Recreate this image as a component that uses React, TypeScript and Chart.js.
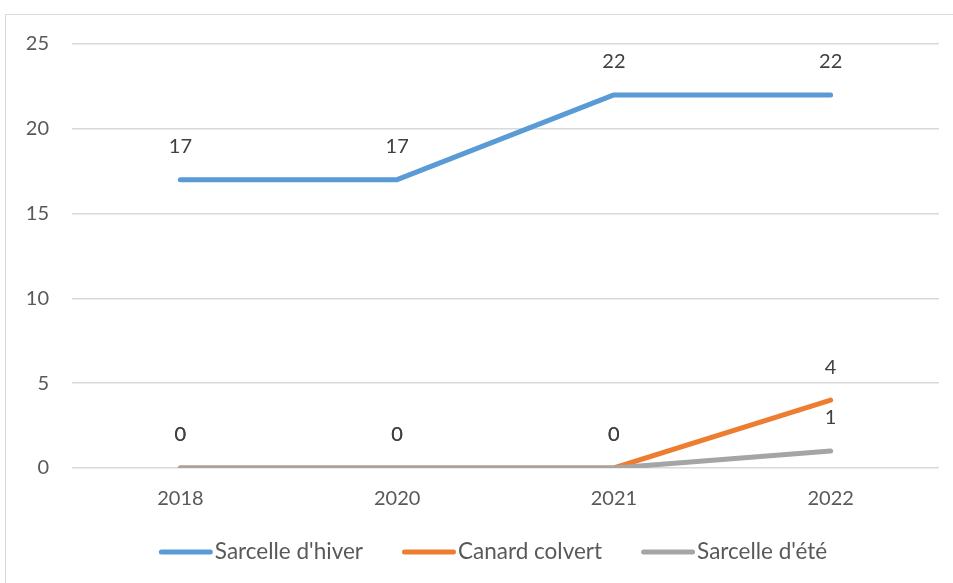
import React, { useEffect, useRef } from "react";
import { Chart, registerables } from "chart.js";

Chart.register(...registerables);

const years = ["2018", "2020", "2021", "2022"];
const sarcelleHiver = [17, 17, 22, 22];
const canardColvert = [0, 0, 0, 4];
const sarcelleEte = [0, 0, 0, 1];
const seriesNames = ["Sarcelle d'hiver", "Canard colvert", "Sarcelle d'été"];
const seriesColors = ["#5B9BD5", "#ED7D31", "#A5A5A5"];
const yMin = 0;
const yMax = 25;
const yStep = 5;

const FONT = "Lato";

const dataLabelPlugin = {
  id: "dataLabels",
  afterDatasetsDraw(chart: any) {
    const ctx = chart.ctx;
    ctx.save();
    ctx.font = `20px ${FONT}`;
    ctx.fillStyle = "#404040";
    ctx.textAlign = "center";
    ctx.textBaseline = "middle";
    chart.data.datasets.forEach((ds: any, i: number) => {
      const meta = chart.getDatasetMeta(i);
      meta.data.forEach((pt: any, j: number) => {
        ctx.fillText(String(ds.data[j]), pt.x, pt.y - 33);
      });
    });
    ctx.restore();
  },
};

const legendPlugin = {
  id: "customLegend",
  afterDraw(chart: any) {
    const ctx = chart.ctx;
    ctx.save();
    ctx.font = `22.5px ${FONT}`;
    const lineLen = 54;
    const gap = 2;
    const spacing = 39;
    const widths = seriesNames.map((n) => ctx.measureText(n).width);
    const total =
      widths.reduce((a, w) => a + lineLen + gap + w, 0) + spacing * (seriesNames.length - 1);
    let x = chart.width / 2 + 7 - total / 2;
    const y = 537;
    seriesNames.forEach((name, i) => {
      ctx.strokeStyle = seriesColors[i];
      ctx.lineWidth = 5;
      ctx.lineCap = "round";
      ctx.beginPath();
      ctx.moveTo(x + 2.5, y);
      ctx.lineTo(x + lineLen - 2.5, y);
      ctx.stroke();
      ctx.fillStyle = "#595959";
      ctx.textAlign = "left";
      ctx.textBaseline = "middle";
      ctx.fillText(name, x + lineLen + gap, y);
      x += lineLen + gap + widths[i] + spacing;
    });
    ctx.restore();
  },
};

export default function App() {
  const canvasRef = useRef<HTMLCanvasElement | null>(null);

  useEffect(() => {
    let chart: Chart | null = null;
    let cancelled = false;
    const make = () => {
      if (cancelled || !canvasRef.current) return;
      const seriesData = [sarcelleHiver, canardColvert, sarcelleEte];
      chart = new Chart(canvasRef.current, {
        type: "line",
        data: {
          labels: years,
          datasets: seriesNames.map((name, i) => ({
            label: name,
            data: seriesData[i],
            borderColor: seriesColors[i],
            backgroundColor: seriesColors[i],
            borderWidth: 5,
            borderCapStyle: "round",
            borderJoinStyle: "round",
            pointRadius: 0,
            tension: 0,
            order: 2 - i,
          })),
        },
        options: {
          responsive: false,
          devicePixelRatio: 1,
          animation: false,
          layout: { padding: { top: 29, right: 27, left: 0, bottom: 0 } },
          plugins: {
            legend: { display: false },
            tooltip: { enabled: false },
          },
          scales: {
            x: {
              offset: true,
              grid: { display: false, drawTicks: false },
              border: { display: false },
              ticks: {
                color: "#595959",
                font: { family: FONT, size: 20 },
                padding: 19,
                maxRotation: 0,
              },
              afterFit(scale: any) {
                scale.height = 115;
                scale.paddingLeft = 0;
                scale.paddingRight = 0;
              },
            },
            y: {
              min: yMin,
              max: yMax,
              grid: { color: "#D9D9D9", lineWidth: 1.5, drawTicks: false },
              border: { display: false },
              ticks: {
                stepSize: yStep,
                color: "#595959",
                font: { family: FONT, size: 20 },
                padding: 23,
              },
              afterFit(scale: any) {
                scale.width = 66;
                scale.paddingTop = 0;
                scale.paddingBottom = 0;
              },
            },
          },
        },
        plugins: [dataLabelPlugin, legendPlugin],
      } as any);
    };
    const fontsReady = (document as any).fonts?.load
      ? (document as any).fonts.load(`20px ${FONT}`).catch(() => null)
      : Promise.resolve();
    fontsReady.then(make);
    return () => {
      cancelled = true;
      if (chart) chart.destroy();
    };
  }, []);

  return (
    <div
      style={{
        position: "fixed",
        left: 0,
        top: 0,
        width: 953,
        height: 583,
        overflow: "hidden",
        background: "#fff",
      }}
    >
      <div
        style={{
          position: "absolute",
          left: 5,
          top: 14,
          width: 960,
          height: 600,
          border: "1px solid #D9D9D9",
          background: "#fff",
        }}
      >
        <canvas ref={canvasRef} width={960} height={568} style={{ display: "block" }} />
      </div>
    </div>
  );
}
